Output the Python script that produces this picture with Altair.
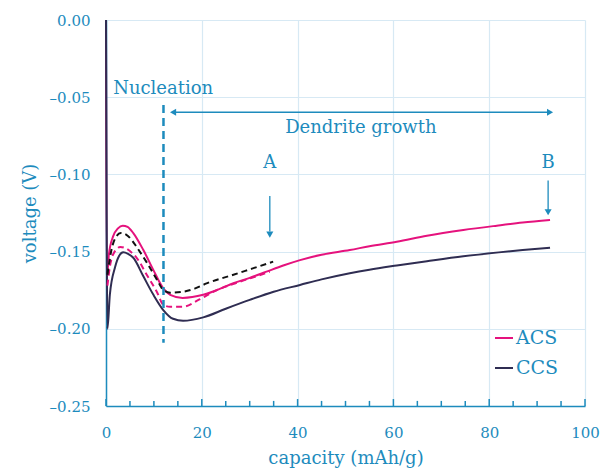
import altair as alt
import pandas as pd

# ---- data ----
acs_x = [0, 0.15, 0.6, 1.5, 2.5, 3.5, 4.5, 5.7, 7.8, 9.9, 12.0, 13.4, 16.0, 20.3, 23.5, 26.6, 30.0, 33.5, 37.0, 40.5, 45.0, 50.9, 55.0, 60.7, 67.0, 74.6, 81.6, 87.0, 92.7]
acs_y = [0, -0.168, -0.152, -0.140, -0.135, -0.1332, -0.134, -0.138, -0.149, -0.162, -0.174, -0.178, -0.180, -0.178, -0.1745, -0.1705, -0.167, -0.163, -0.159, -0.1555, -0.152, -0.149, -0.1465, -0.1436, -0.1397, -0.136, -0.1332, -0.1312, -0.1295]

ccs_x = [0, 0.3, 0.8, 1.9, 2.7, 3.6, 4.6, 5.7, 7.8, 9.9, 12.0, 14.0, 16.1, 20.3, 25.0, 30.0, 35.0, 40.5, 45.0, 50.9, 55.0, 60.7, 67.0, 74.6, 82.0, 87.0, 92.7]
ccs_y = [0, -0.200, -0.178, -0.160, -0.153, -0.1505, -0.1515, -0.154, -0.166, -0.178, -0.188, -0.1935, -0.1948, -0.1926, -0.187, -0.1813, -0.176, -0.1716, -0.168, -0.164, -0.1617, -0.159, -0.1562, -0.153, -0.1505, -0.149, -0.1475]

blk_x = [0.3, 1.2, 2.0, 3.1, 4.2, 5.5, 6.4, 8.5, 10.6, 12.0, 13.4, 16.1, 18.5, 21.0, 26.6, 30.5, 34.9]
blk_y = [-0.165, -0.148, -0.141, -0.138, -0.139, -0.143, -0.147, -0.157, -0.168, -0.175, -0.1766, -0.176, -0.174, -0.1706, -0.165, -0.161, -0.1565]

acsd_x = [0.3, 0.8, 1.8, 3.0, 4.2, 5.5, 6.4, 8.5, 10.6, 12.0, 13.4, 16.1, 19.5, 23.1, 26.5, 30.1, 34.2]
acsd_y = [-0.172, -0.160, -0.150, -0.147, -0.148, -0.151, -0.154, -0.165, -0.176, -0.1846, -0.1857, -0.1857, -0.181, -0.175, -0.171, -0.1673, -0.163]

x_ticks = list(range(0, 101, 5))
y_ticks = [0.0, -0.05, -0.10, -0.15, -0.20, -0.25]
series_names = ["ACS", "CCS"]
series_colors = ["#e5127d", "#2f2d52"]

BLUE = "#1d8bbd"
FONT = "DejaVu Serif"

xs = alt.Scale(domain=[0, 100], nice=False)
ys = alt.Scale(domain=[-0.25, 0], nice=False)

solid = pd.concat([
    pd.DataFrame({"x": acs_x, "y": acs_y, "s": "ACS", "o": range(len(acs_x))}),
    pd.DataFrame({"x": ccs_x, "y": ccs_y, "s": "CCS", "o": range(len(ccs_x))}),
])

xax = alt.Axis(values=list(range(0, 101, 20)), title="capacity (mAh/g)", ticks=False,
               labelPadding=19, titlePadding=9, grid=True, labelFlush=False)
yax = alt.Axis(values=y_ticks, title="voltage (V)", ticks=False, labelPadding=16, titlePadding=10,
               grid=True,
               labelExpr="datum.value < 0 ? '\u2013' + format(abs(datum.value), '.2f') : format(datum.value, '.2f')")

base_lines = alt.Chart(solid).mark_line(strokeWidth=2, interpolate="monotone").encode(
    x=alt.X("x:Q", scale=xs, axis=xax),
    y=alt.Y("y:Q", scale=ys, axis=yax),
    order="o:Q",
    color=alt.Color("s:N", scale=alt.Scale(domain=series_names, range=series_colors),
                    legend=alt.Legend(orient="none", legendX=388, legendY=308, title=None,
                                      symbolType="stroke", symbolSize=324, symbolStrokeWidth=2,
                                      labelFont=FONT, labelFontSize=19, labelColor=BLUE,
                                      labelOffset=2, rowPadding=10)),
)

blk = alt.Chart(pd.DataFrame({"x": blk_x, "y": blk_y, "o": range(len(blk_x))})).mark_line(
    strokeWidth=2, strokeDash=[6, 4], color="#111111", interpolate="monotone").encode(
    x=alt.X("x:Q", scale=xs), y=alt.Y("y:Q", scale=ys), order="o:Q")

acsd = alt.Chart(pd.DataFrame({"x": acsd_x, "y": acsd_y, "o": range(len(acsd_x))})).mark_line(
    strokeWidth=2, strokeDash=[6, 4], color="#e5127d", interpolate="monotone").encode(
    x=alt.X("x:Q", scale=xs), y=alt.Y("y:Q", scale=ys), order="o:Q")

# x-axis ticks drawn inward
tick_df = pd.DataFrame({"x": x_ticks, "y": -0.25,
                        "y2": [-0.25 + (0.0045 if t % 20 == 0 else 0.0033) for t in x_ticks]})
ticks = alt.Chart(tick_df).mark_rule(color=BLUE, strokeWidth=1.5).encode(
    x=alt.X("x:Q", scale=xs), y=alt.Y("y:Q", scale=ys), y2="y2:Q")

# annotations
vdash = alt.Chart(pd.DataFrame({"x": [12], "y": [-0.055], "y2": [-0.209]})).mark_rule(
    color=BLUE, strokeWidth=2.5, strokeDash=[8, 5]).encode(
    x=alt.X("x:Q", scale=xs), y=alt.Y("y:Q", scale=ys), y2="y2:Q")

harrow = alt.Chart(pd.DataFrame({"x": [14.0], "x2": [92.5], "y": [-0.0598]})).mark_rule(
    color=BLUE, strokeWidth=1.5).encode(
    x=alt.X("x:Q", scale=xs), x2="x2:Q", y=alt.Y("y:Q", scale=ys))

heads = alt.Chart(pd.DataFrame({"x": [14.0, 92.7, 34.2, 92.3], "y": [-0.0598, -0.0598, -0.139, -0.1245],
                                "shape": ["triangle-left", "triangle-right", "triangle-down", "triangle-down"]})).mark_point(
    filled=True, color=BLUE, size=50, opacity=1).encode(
    x=alt.X("x:Q", scale=xs), y=alt.Y("y:Q", scale=ys),
    shape=alt.Shape("shape:N", scale=None, legend=None))

varrows = alt.Chart(pd.DataFrame({"x": [34.2, 92.3], "y": [-0.114, -0.104], "y2": [-0.137, -0.123]})).mark_rule(
    color=BLUE, strokeWidth=1.3).encode(
    x=alt.X("x:Q", scale=xs), y=alt.Y("y:Q", scale=ys), y2="y2:Q")

label_left = alt.Chart(pd.DataFrame({"x": [1.5], "y": [-0.0445], "t": ["Nucleation"]})).mark_text(
    font=FONT, fontSize=18, color=BLUE, baseline="middle", align="left").encode(
    x=alt.X("x:Q", scale=xs), y=alt.Y("y:Q", scale=ys), text="t:N")

label_center = alt.Chart(pd.DataFrame({
    "x": [53.2, 34.2, 92.3],
    "y": [-0.0700, -0.0925, -0.0925],
    "t": ["Dendrite growth", "A", "B"],
})).mark_text(font=FONT, fontSize=18, color=BLUE, baseline="middle", align="center").encode(
    x=alt.X("x:Q", scale=xs), y=alt.Y("y:Q", scale=ys), text="t:N")

chart = alt.layer(base_lines, acsd, blk, ticks, vdash, harrow, varrows, heads, label_left, label_center).properties(
    width=479, height=386,
    background="white",
    autosize=alt.AutoSizeParams(type="none"),
    padding={"left": 106, "top": 20, "right": 16, "bottom": 62},
).configure_view(stroke=None).configure_axis(
    domainColor=BLUE, domainWidth=1.5, gridColor="#d7e9f4", gridWidth=1.2,
    labelFont=FONT, labelFontSize=15, labelColor=BLUE,
    titleFont=FONT, titleFontSize=18, titleColor=BLUE, titleFontWeight="normal",
)

chart.save("out.html", embed_options={"renderer": "svg", "actions": False})
